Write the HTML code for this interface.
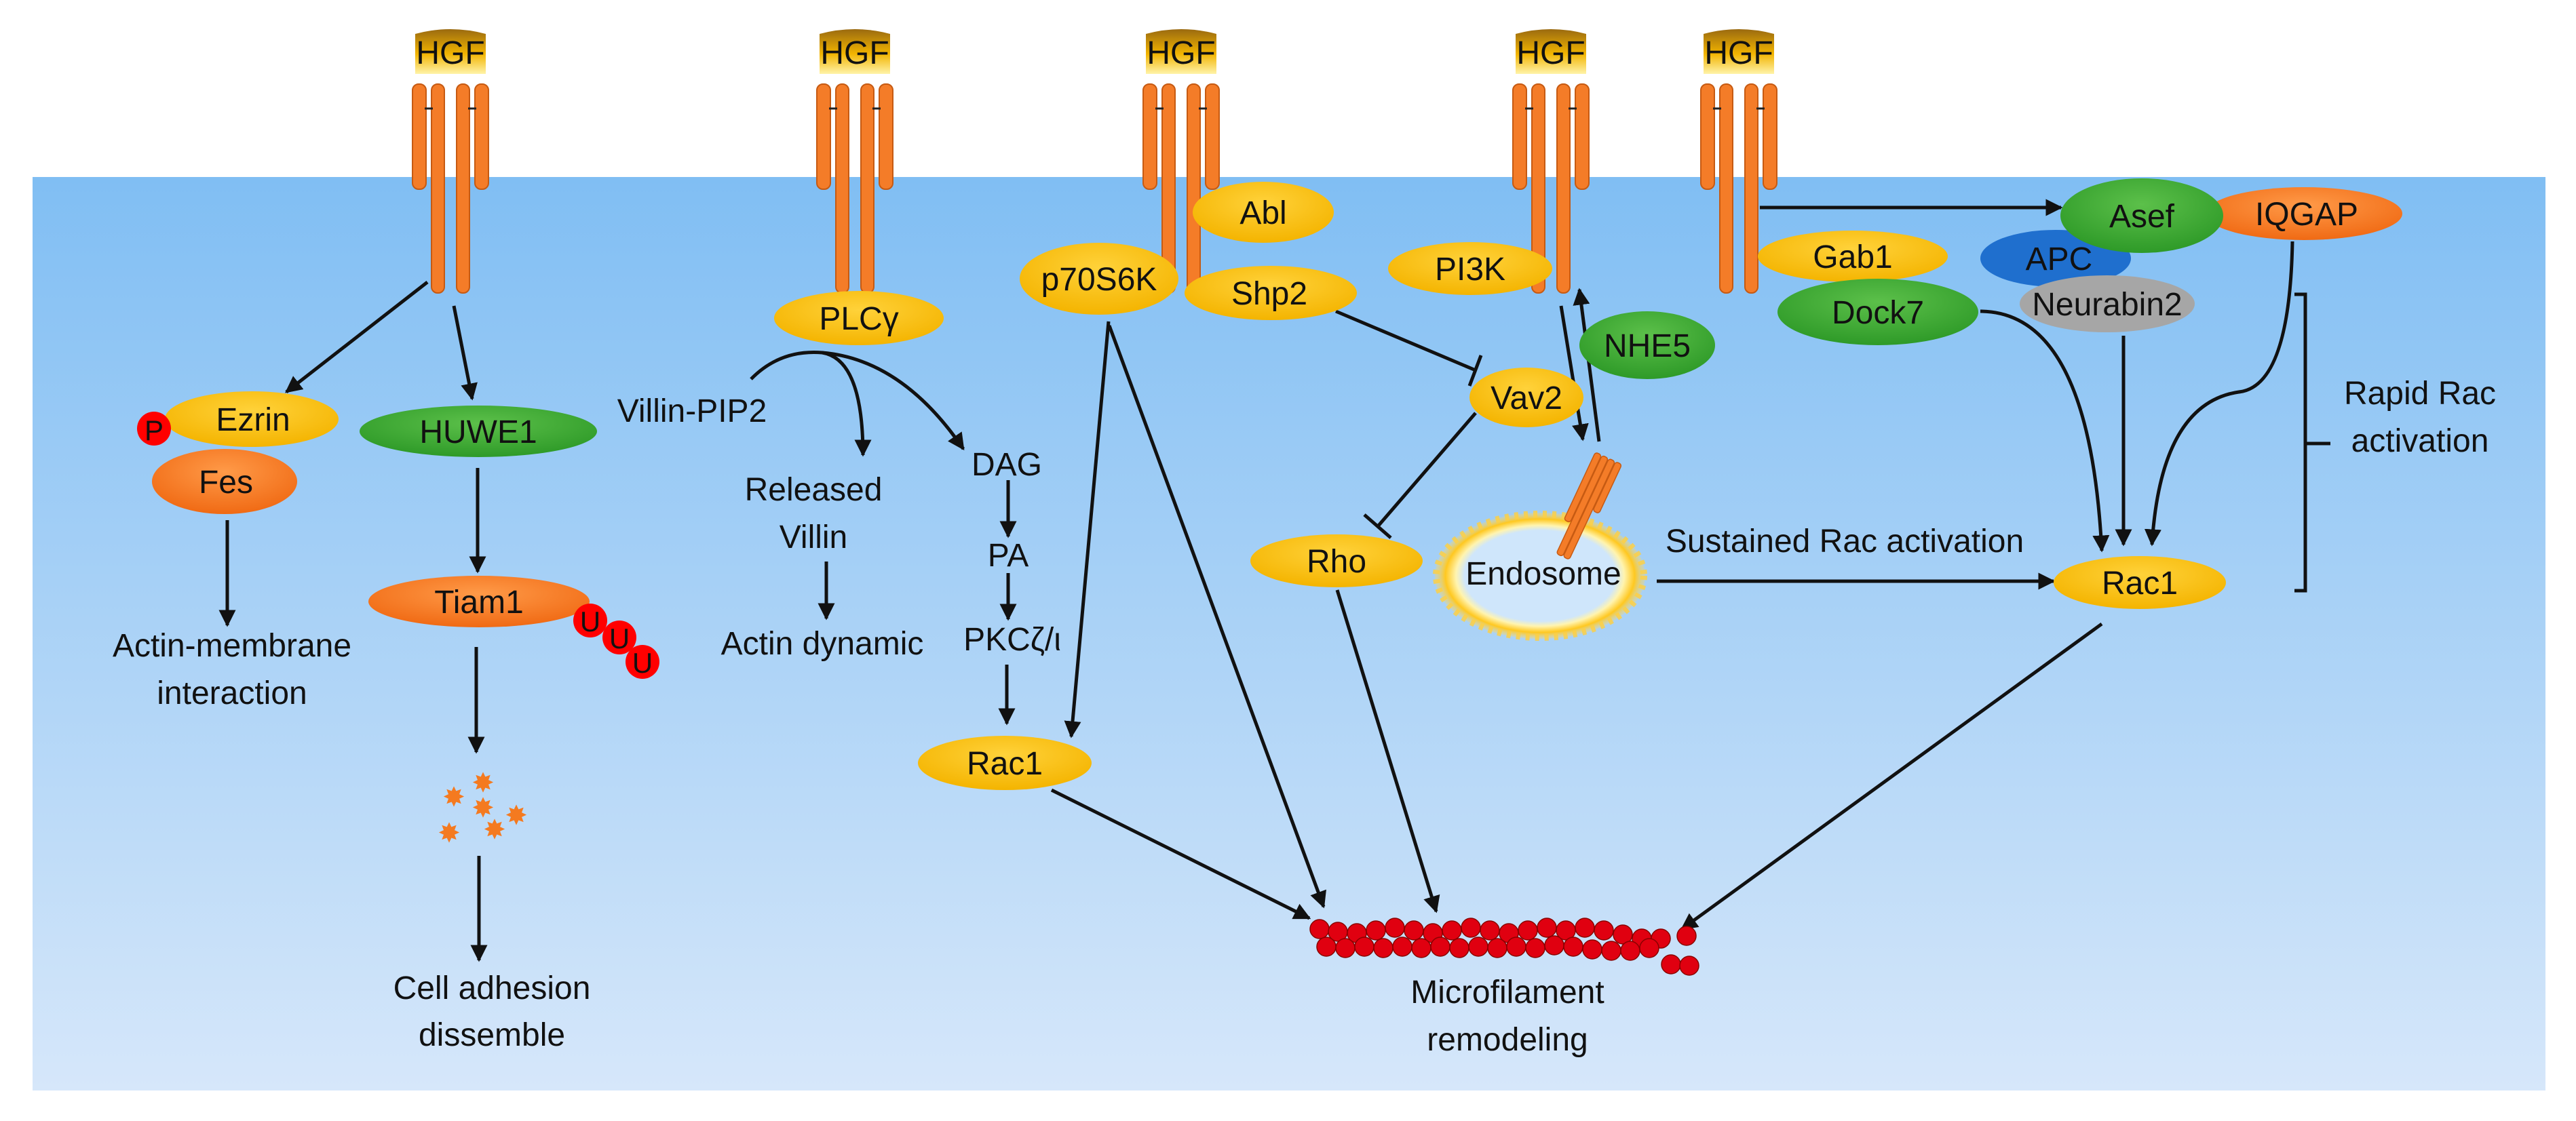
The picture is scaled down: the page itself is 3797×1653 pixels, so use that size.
<!DOCTYPE html>
<html><head><meta charset="utf-8"><style>
html,body{margin:0;padding:0;background:#fff}
svg{display:block}
text{font-family:"Liberation Sans",sans-serif;fill:#111}
</style></head><body>
<svg width="3797" height="1653" viewBox="0 0 3797 1653" xmlns="http://www.w3.org/2000/svg">
<defs>
<linearGradient id="bg" x1="0" y1="0" x2="0" y2="1"><stop offset="0" stop-color="#80bef3"/><stop offset="1" stop-color="#d6e7fa"/></linearGradient>
<linearGradient id="hgf" x1="0" y1="0" x2="0" y2="1"><stop offset="0" stop-color="#9a6a10"/><stop offset="0.55" stop-color="#f2b400"/><stop offset="1" stop-color="#fff3a8"/></linearGradient>
<radialGradient id="yel" cx="0.5" cy="0.35" r="0.65"><stop offset="0" stop-color="#ffd23a"/><stop offset="1" stop-color="#f4b400"/></radialGradient>
<radialGradient id="grn" cx="0.5" cy="0.35" r="0.65"><stop offset="0" stop-color="#5cc04a"/><stop offset="1" stop-color="#2e9a28"/></radialGradient>
<radialGradient id="org" cx="0.5" cy="0.35" r="0.65"><stop offset="0" stop-color="#ff9a48"/><stop offset="1" stop-color="#f06a14"/></radialGradient>
<radialGradient id="glow" cx="0.5" cy="0.5" r="0.5"><stop offset="0.72" stop-color="#cfe6fb"/><stop offset="0.8" stop-color="#fff4b0"/><stop offset="0.9" stop-color="#ffc820"/><stop offset="1" stop-color="#ffd860" stop-opacity="0.3"/></radialGradient>
<marker id="a" viewBox="0 0 10 10" refX="9" refY="5" markerWidth="5" markerHeight="5" orient="auto"><path d="M0,0L10,5L0,10z" fill="#111"/></marker>
<g id="rec">
<rect x="-56" y="124" width="20" height="155" rx="9" fill="#f47c28" stroke="#c65a12" stroke-width="2"/>
<rect x="36" y="124" width="20" height="155" rx="9" fill="#f47c28" stroke="#c65a12" stroke-width="2"/>
<rect x="-28" y="124" width="19" height="308" rx="9" fill="#f47c28" stroke="#c65a12" stroke-width="2"/>
<rect x="9" y="124" width="19" height="308" rx="9" fill="#f47c28" stroke="#c65a12" stroke-width="2"/>
<line x1="-38" y1="160" x2="-26" y2="160" stroke="#222" stroke-width="3"/>
<line x1="26" y1="160" x2="38" y2="160" stroke="#222" stroke-width="3"/>
<path d="M-52,50 Q0,36 52,50 L52,109 L-52,109z" fill="url(#hgf)"/>
<text x="0" y="94" text-anchor="middle" font-size="48">HGF</text>
</g>
</defs>
<rect x="48" y="261" width="3704" height="1347" fill="url(#bg)"/>
<use href="#rec" x="664"/>
<use href="#rec" x="1260"/>
<use href="#rec" x="1741"/>
<use href="#rec" x="2286"/>
<use href="#rec" x="2563"/>

<!-- endosome -->
<ellipse cx="2270" cy="849" rx="155" ry="93" fill="url(#glow)"/>
<ellipse cx="2270" cy="849" rx="153" ry="91" fill="none" stroke="#ffd040" stroke-width="10" stroke-dasharray="6 8" opacity="0.8"/>
<g transform="translate(2335,745) rotate(25)">
<rect x="-18" y="-78" width="10" height="110" rx="4" fill="#f47c28" stroke="#c65a12" stroke-width="1.5"/>
<rect x="-7" y="-78" width="10" height="160" rx="4" fill="#f47c28" stroke="#c65a12" stroke-width="1.5"/>
<rect x="4" y="-78" width="10" height="160" rx="4" fill="#f47c28" stroke="#c65a12" stroke-width="1.5"/>
<rect x="15" y="-78" width="10" height="80" rx="4" fill="#f47c28" stroke="#c65a12" stroke-width="1.5"/>
</g>

<g stroke="#111" stroke-width="5" fill="none" marker-end="url(#a)">
<line x1="630" y1="416" x2="422" y2="578"/>
<line x1="669" y1="451" x2="696" y2="588"/>
<line x1="335" y1="767" x2="335" y2="922"/>
<line x1="704" y1="690" x2="704" y2="843"/>
<line x1="702" y1="954" x2="702" y2="1109"/>
<line x1="706" y1="1262" x2="706" y2="1416"/>
<path d="M1107,559 Q1150,515 1212,520 Q1272,530 1272,671"/>
<path d="M1212,520 Q1330,530 1420,662"/>
<line x1="1218" y1="828" x2="1218" y2="912"/>
<line x1="1486" y1="708" x2="1486" y2="791"/>
<line x1="1486" y1="845" x2="1486" y2="913"/>
<line x1="1484" y1="980" x2="1484" y2="1067"/>
<line x1="1634" y1="474" x2="1579" y2="1086"/>
<line x1="1635" y1="480" x2="1951" y2="1337"/>
<line x1="1550" y1="1165" x2="1930" y2="1354"/>
<line x1="1971" y1="870" x2="2117" y2="1344"/>
<line x1="2301" y1="451" x2="2333" y2="648"/>
<line x1="2357" y1="651" x2="2328" y2="427"/>
<line x1="2442" y1="857" x2="3027" y2="857"/>
<line x1="2594" y1="306" x2="3038" y2="306"/>
<path d="M2919,459 Q3080,460 3098,812"/>
<line x1="3130" y1="495" x2="3130" y2="803"/>
<path d="M3379,356 Q3375,570 3300,578 Q3185,595 3172,803"/>
<line x1="3098" y1="920" x2="2479" y2="1370"/>
</g>
<g stroke="#111" stroke-width="5" fill="none">
<line x1="1969" y1="459" x2="2175" y2="546"/>
<line x1="2183" y1="524" x2="2166" y2="569"/>
<line x1="2175" y1="609" x2="2031" y2="776"/>
<line x1="2011" y1="759" x2="2050" y2="793"/>
<path d="M3382,434 L3398,434 L3398,871 L3382,871 M3398,654 L3435,654"/>
</g>

<!-- nodes -->
<g font-size="48" text-anchor="middle">
<ellipse cx="371" cy="618" rx="128" ry="41" fill="url(#yel)"/><text x="373" y="635">Ezrin</text>
<circle cx="227" cy="632" r="25" fill="#f00"/><text x="227" y="649" font-size="42">P</text>
<ellipse cx="331" cy="710" rx="107" ry="48" fill="url(#org)"/><text x="333" y="727">Fes</text>
<ellipse cx="705" cy="636" rx="175" ry="38" fill="url(#grn)"/><text x="705" y="653">HUWE1</text>
<ellipse cx="706" cy="887" rx="163" ry="38" fill="url(#org)"/><text x="706" y="904">Tiam1</text>
<circle cx="870" cy="915" r="25" fill="#f00"/><text x="870" y="931" font-size="42">U</text>
<circle cx="913" cy="940" r="25" fill="#f00"/><text x="913" y="956" font-size="42">U</text>
<circle cx="947" cy="976" r="25" fill="#f00"/><text x="947" y="992" font-size="42">U</text>
<ellipse cx="1266" cy="469" rx="125" ry="40" fill="url(#yel)"/><text x="1266" y="486">PLCγ</text>
<ellipse cx="1862" cy="313" rx="104" ry="45" fill="url(#yel)"/><text x="1862" y="330">Abl</text>
<ellipse cx="1620" cy="411" rx="117" ry="53" fill="url(#yel)"/><text x="1620" y="428">p70S6K</text>
<ellipse cx="1873" cy="432" rx="127" ry="40" fill="url(#yel)"/><text x="1871" y="449">Shp2</text>
<ellipse cx="1481" cy="1125" rx="128" ry="40" fill="url(#yel)"/><text x="1481" y="1142">Rac1</text>
<ellipse cx="2167" cy="396" rx="121" ry="39" fill="url(#yel)"/><text x="2167" y="413">PI3K</text>
<ellipse cx="2428" cy="509" rx="100" ry="50" fill="url(#grn)"/><text x="2428" y="526">NHE5</text>
<ellipse cx="2250" cy="586" rx="84" ry="44" fill="url(#yel)"/><text x="2250" y="603">Vav2</text>
<ellipse cx="1970" cy="827" rx="127" ry="39" fill="url(#yel)"/><text x="1970" y="844">Rho</text>
<ellipse cx="2731" cy="378" rx="140" ry="38" fill="url(#yel)"/><text x="2731" y="395">Gab1</text>
<ellipse cx="3030" cy="381" rx="111" ry="42" fill="#1f6fce"/><text x="3035" y="398">APC</text>
<ellipse cx="3396" cy="315" rx="145" ry="39" fill="url(#org)"/><text x="3400" y="332">IQGAP</text>
<ellipse cx="3157" cy="318" rx="120" ry="55" fill="url(#grn)"/><text x="3157" y="335">Asef</text>
<ellipse cx="3106" cy="448" rx="129" ry="42" fill="#a6a6a6"/><text x="3106" y="465">Neurabin2</text>
<ellipse cx="2768" cy="460" rx="148" ry="49" fill="url(#grn)"/><text x="2768" y="477">Dock7</text>
<ellipse cx="3154" cy="859" rx="127" ry="39" fill="url(#yel)"/><text x="3154" y="876">Rac1</text>
<text x="2275" y="862">Endosome</text>
</g>

<!-- stars -->
<g font-size="40" text-anchor="middle" font-family="DejaVu Sans">
<text x="712" y="1168" style="fill:#f47a20">✸</text>
<text x="669" y="1189" style="fill:#f47a20">✸</text>
<text x="712" y="1205" style="fill:#f47a20">✸</text>
<text x="761" y="1216" style="fill:#f47a20">✸</text>
<text x="729" y="1237" style="fill:#f47a20">✸</text>
<text x="662" y="1242" style="fill:#f47a20">✸</text>
</g>

<!-- microfilament -->
<g fill="#e00010" stroke="#8a0000" stroke-width="1.5">
<circle cx="1945" cy="1370" r="14"/><circle cx="1972" cy="1374" r="14"/><circle cx="2000" cy="1376" r="14"/><circle cx="2028" cy="1372" r="14"/><circle cx="2056" cy="1368" r="14"/><circle cx="2084" cy="1372" r="14"/><circle cx="2112" cy="1376" r="14"/><circle cx="2140" cy="1372" r="14"/><circle cx="2168" cy="1368" r="14"/><circle cx="2196" cy="1372" r="14"/><circle cx="2224" cy="1376" r="14"/><circle cx="2252" cy="1372" r="14"/><circle cx="2280" cy="1368" r="14"/><circle cx="2308" cy="1372" r="14"/><circle cx="2336" cy="1368" r="14"/><circle cx="2364" cy="1372" r="14"/><circle cx="2392" cy="1378" r="14"/><circle cx="2420" cy="1384" r="14"/><circle cx="2448" cy="1384" r="14"/><circle cx="2486" cy="1380" r="14"/>
<circle cx="1955" cy="1396" r="14"/><circle cx="1983" cy="1398" r="14"/><circle cx="2011" cy="1396" r="14"/><circle cx="2039" cy="1398" r="14"/><circle cx="2067" cy="1396" r="14"/><circle cx="2095" cy="1398" r="14"/><circle cx="2123" cy="1396" r="14"/><circle cx="2151" cy="1398" r="14"/><circle cx="2179" cy="1396" r="14"/><circle cx="2207" cy="1398" r="14"/><circle cx="2235" cy="1396" r="14"/><circle cx="2263" cy="1398" r="14"/><circle cx="2291" cy="1394" r="14"/><circle cx="2319" cy="1396" r="14"/><circle cx="2347" cy="1400" r="14"/><circle cx="2375" cy="1402" r="14"/><circle cx="2403" cy="1402" r="14"/><circle cx="2431" cy="1398" r="14"/><circle cx="2463" cy="1422" r="14"/><circle cx="2490" cy="1424" r="14"/>
</g>

<!-- labels -->
<g font-size="48" text-anchor="middle">
<text x="342" y="968">Actin-membrane</text>
<text x="342" y="1038">interaction</text>
<text x="725" y="1473">Cell adhesion</text>
<text x="725" y="1542">dissemble</text>
<text x="1020" y="622">Villin-PIP2</text>
<text x="1199" y="738">Released</text>
<text x="1199" y="808">Villin</text>
<text x="1212" y="965">Actin dynamic</text>
<text x="1484" y="701">DAG</text>
<text x="1486" y="835">PA</text>
<text x="1492" y="959">PKCζ/ι</text>
<text x="2719" y="814">Sustained Rac activation</text>
<text x="3567" y="596">Rapid Rac</text>
<text x="3567" y="666">activation</text>
<text x="2222" y="1479">Microfilament</text>
<text x="2222" y="1549">remodeling</text>
</g>
</svg>
</body></html>
